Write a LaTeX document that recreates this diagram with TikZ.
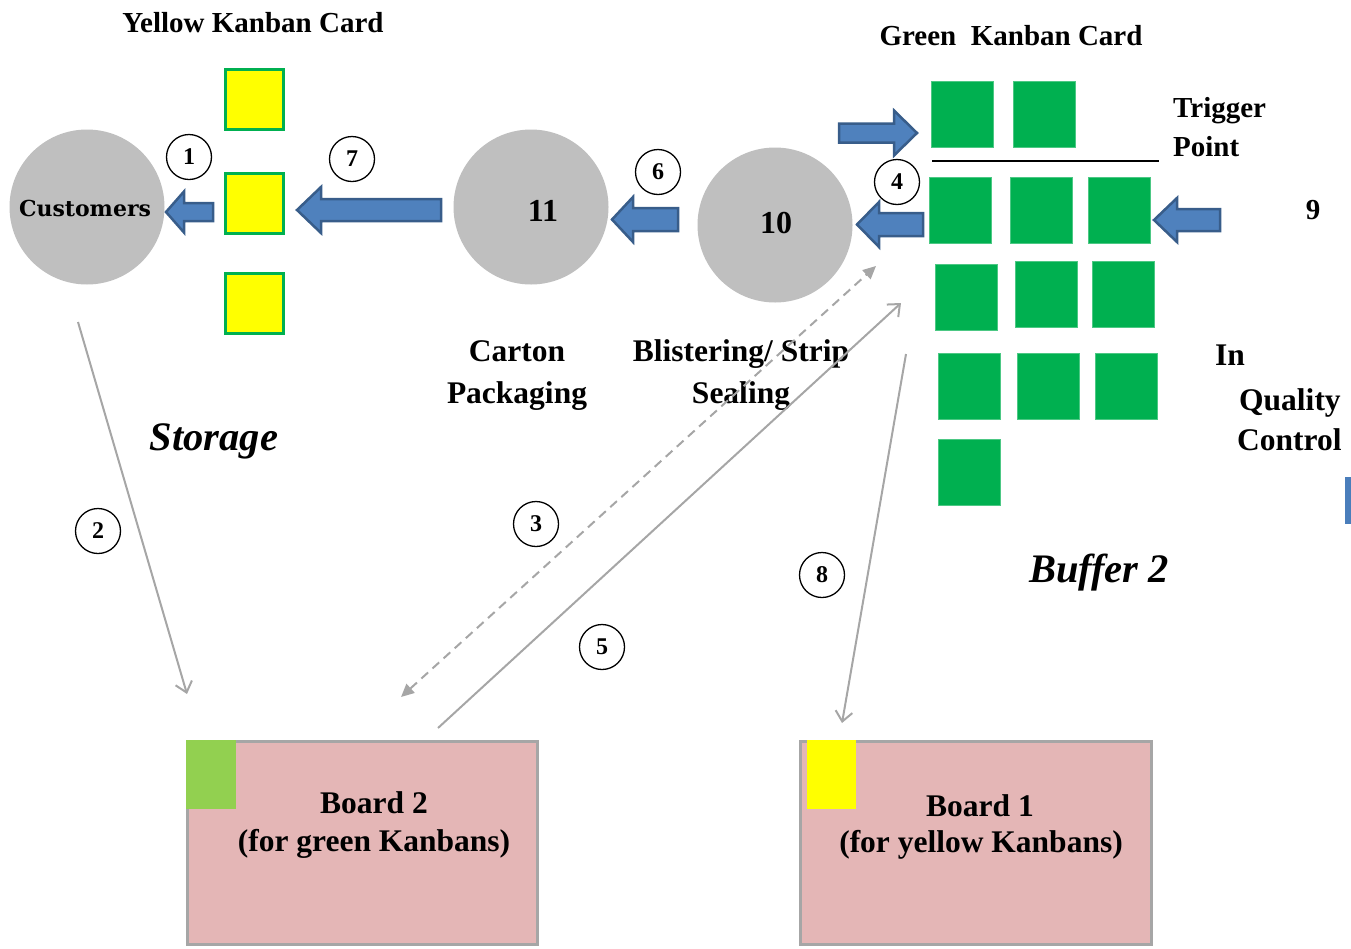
\documentclass[tikz,border=0pt]{standalone}
\usepackage{fontspec}
\setmainfont{Liberation Serif}
\newfontfamily\custfont{DejaVu Serif}
\usetikzlibrary{arrows.meta}
\definecolor{procgray}{HTML}{BFBFBF}
\definecolor{kgreen}{HTML}{00B050}
\definecolor{lgreen}{HTML}{92D050}
\definecolor{kyellow}{HTML}{FFFF00}
\definecolor{arrfill}{HTML}{4F81BD}
\definecolor{arrline}{HTML}{385D8A}
\definecolor{lgray}{HTML}{A6A6A6}
\definecolor{boardpink}{HTML}{E4B6B6}
\definecolor{barblue}{HTML}{4A7EBB}
\newcommand\kbarrow[6]{\draw[blockarr] (#4,#2-#5) -- (#3,#2-#5) -- (#3,#2-#6) -- (#1,#2) -- (#3,#2+#6) -- (#3,#2+#5) -- (#4,#2+#5) -- cycle;}
\begin{document}
\begin{tikzpicture}[x=1pt,y=-1pt,
  proc/.style={circle,fill=procgray,minimum size=155pt,inner sep=0pt},
  ycard/.style={rectangle,draw=kgreen,line width=3pt,fill=kyellow,minimum width=58pt,minimum height=60pt,inner sep=0pt},
  gcard/.style={rectangle,fill=kgreen,draw=kgreen!70!white,line width=0.6pt,minimum width=62pt,minimum height=66pt,inner sep=0pt},
  num/.style={circle,draw,line width=1.3pt,minimum size=45pt,inner sep=0pt,font=\bfseries\fontsize{24}{26}\selectfont},
  lbl/.style={inner sep=0pt,font=\bfseries\fontsize{31.5}{36}\selectfont},
  ttl/.style={inner sep=0pt,font=\bfseries\fontsize{29}{34}\selectfont},
  big/.style={inner sep=0pt,font=\bfseries\itshape\fontsize{40.5}{46}\selectfont},
  blockarr/.style={fill=arrfill,draw=arrline,line width=2.5pt,line join=miter},
  conn/.style={draw=lgray,line width=2pt},
  board/.style={rectangle,draw=lgray,line width=3pt,fill=boardpink,inner sep=0pt}]
\useasboundingbox (0,0) rectangle (1351,948);

% titles
\node[ttl,anchor=base] (ytitle) at (253,32) {Yellow Kanban Card};
\node[ttl,anchor=base] (gtitle) at (1011,45) {Green\ \ Kanban Card};
\node[ttl,anchor=base west] (trig1) at (1173,117) {Trigger};
\node[ttl,anchor=base west] (trig2) at (1173,156) {Point};
\node[ttl,anchor=base] (n9) at (1313,219) {9};

% process circles
\node[proc] (cust) at (87,207) {};
\node[inner sep=0pt,anchor=base,font=\custfont\bfseries\fontsize{22}{26}\selectfont] (custlbl) at (85,216) {Customers};
\node[proc] (p11) at (531,207) {};
\node[lbl,anchor=base,font=\bfseries\fontsize{32}{36}\selectfont] (l11) at (543,221) {11};
\node[proc] (p10) at (775,225) {};
\node[lbl,anchor=base,font=\bfseries\fontsize{32}{36}\selectfont] (l10) at (776,233) {10};

% yellow cards
\node[ycard] (y1) at (254.5,99.5) {};
\node[ycard] (y2) at (254.5,203) {};
\node[ycard] (y3) at (254.5,303.5) {};

% green cards
\node[gcard] (g01) at (962,114) {};
\node[gcard] (g02) at (1044,114) {};
\node[gcard] (g11) at (960,210) {};
\node[gcard] (g12) at (1041.5,210) {};
\node[gcard] (g13) at (1119.5,210) {};
\node[gcard] (g21) at (966.5,297) {};
\node[gcard] (g22) at (1046.5,294.5) {};
\node[gcard] (g23) at (1123.5,294.5) {};
\node[gcard] (g31) at (969.5,386) {};
\node[gcard] (g32) at (1048.5,386) {};
\node[gcard] (g33) at (1126.5,386) {};
\node[gcard] (g41) at (969.5,472.5) {};

% trigger line
\coordinate (tl1) at (932,161);
\coordinate (tl2) at (1159,161);
\draw[line width=2.5pt] (tl1) -- (tl2);

% block arrows
\kbarrow{166}{212}{184}{213}{9}{20.5}
\kbarrow{297}{210}{321}{441}{11}{23}
\kbarrow{612}{219.5}{633}{678}{11.5}{22.5}
\kbarrow{857}{224.5}{879}{923}{11.5}{22.5}
\kbarrow{917}{133}{894}{839}{9.5}{22.5}
\kbarrow{1154}{220}{1177}{1220}{11}{22}

% circled numbers
\node[num] (c1) at (189,157) {1};
\node[num] (c7) at (352,159) {7};
\node[num] (c6) at (658,172) {6};
\node[num] (c4) at (897,182) {4};
\node[num] (c2) at (98,531) {2};
\node[num] (c3) at (536,524) {3};
\node[num] (c5) at (602,647) {5};
\node[num] (c8) at (822,575) {8};

% labels
\node[lbl,anchor=base] (carton) at (517,361) {Carton};
\node[lbl,anchor=base] (packaging) at (517,403) {Packaging};
\node[lbl,anchor=base] (blister) at (741,361) {Blistering/ Strip};
\node[lbl,anchor=base] (sealing) at (741,403) {Sealing};
\node[lbl,anchor=base west] (qin) at (1215,365) {In};
\node[lbl,anchor=base west] (qqual) at (1239,410) {Quality};
\node[lbl,anchor=base west] (qctrl) at (1237,450) {Control};
\node[big,anchor=base] (storage) at (214,450) {Storage};
\node[big,anchor=base] (buffer) at (1099,582) {Buffer 2};

% boards
\node[board,minimum width=350pt,minimum height=203pt] (b2) at (362.5,843) {};
\fill[lgreen] (186,740) rectangle (236,809);
\node[board,minimum width=351pt,minimum height=203pt] (b1) at (976,843) {};
\fill[kyellow] (807,740) rectangle (856,809);
\node[lbl,anchor=base] (b2a) at (374,813) {Board 2};
\node[lbl,anchor=base] (b2b) at (374,851) {(for green Kanbans)};
\node[lbl,anchor=base] (b1a) at (980,816) {Board 1};
\node[lbl,anchor=base] (b1b) at (981,852) {(for yellow Kanbans)};

% connectors
\coordinate (l2s) at (78,322);
\coordinate (l2e) at (187,694);
\coordinate (l3s) at (401,697);
\coordinate (l3e) at (876,266);
\coordinate (l5s) at (438,728);
\coordinate (l5e) at (901,303);
\coordinate (l8s) at (906,354);
\coordinate (l8e) at (842,723);
\draw[conn,-{Straight Barb[length=10pt,width=17pt]}] (l2s) -- (l2e);
\draw[conn,dash pattern=on 9pt off 6pt,{Triangle[length=13pt,width=12pt]}-{Triangle[length=13pt,width=12pt]}] (l3s) -- (l3e);
\draw[conn,-{Straight Barb[length=10pt,width=17pt]}] (l5s) -- (l5e);
\draw[conn,-{Straight Barb[length=10pt,width=17pt]}] (l8s) -- (l8e);

% right edge bar
\fill[barblue] (1345,477) rectangle (1351,524);
\end{tikzpicture}
\end{document}
